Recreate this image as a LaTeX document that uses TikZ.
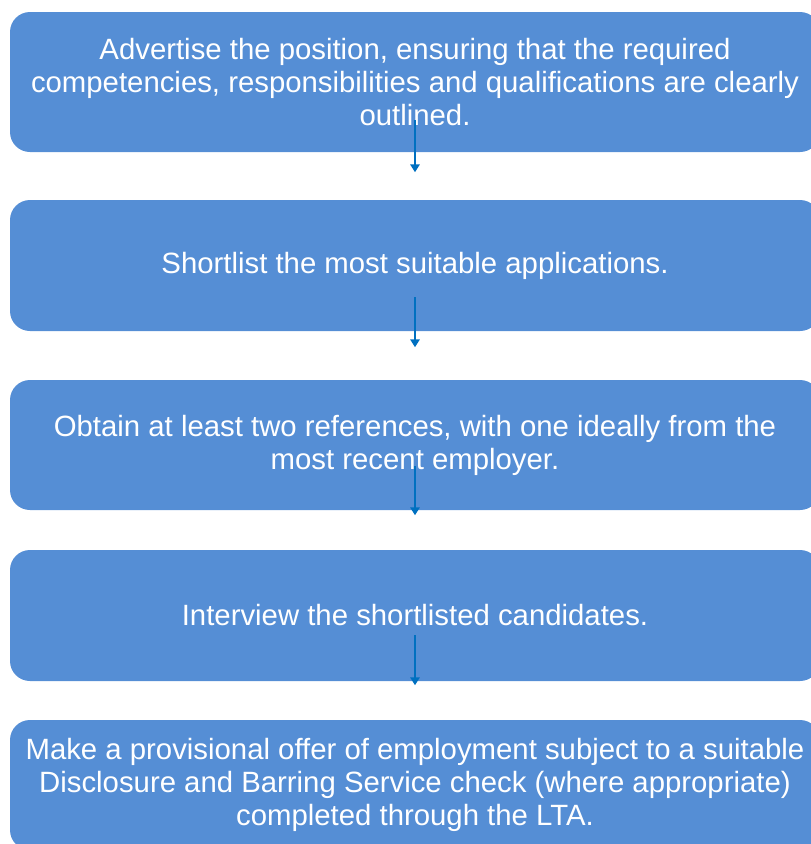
\documentclass[tikz,border=0pt]{standalone}
\usepackage{fontspec}
\setmainfont{Liberation Sans}
\usetikzlibrary{arrows.meta}

\definecolor{boxblue}{RGB}{85,142,213}
\definecolor{arrowblue}{RGB}{0,112,192}

\tikzset{
  stepbox/.style={fill=boxblue, rounded corners=15pt, minimum width=607.5pt,
    text=white, align=center, inner sep=0pt,
    font=\fontsize{22}{24.75}\selectfont},
  flow/.style={draw=arrowblue, line width=1.5pt, -{Triangle[width=7pt,length=6pt]}}
}

\begin{document}
\begin{tikzpicture}[x=0.75pt,y=-0.75pt]
\useasboundingbox (0,0) rectangle (811,844);
\clip (0,0) rectangle (811,844);

\node[stepbox, minimum height=105pt] (advert) at (415,82)
  {Advertise the position, ensuring that the required\\
   competencies, responsibilities and qualifications are clearly\\
   outlined.};
\node[stepbox, minimum height=98.25pt] (shortlist) at (415,265.5)
  {Shortlist the most suitable applications.};
\node[stepbox, minimum height=97.5pt] (refs) at (415,445)
  {Obtain at least two references, with one ideally from the\\
   most recent employer.};
\node[stepbox, minimum height=98.25pt] (interview) at (415,615.5)
  {Interview the shortlisted candidates.};
\node[stepbox, minimum height=97.5pt] (offer) at (415,785)
  {Make a provisional offer of employment subject to a suitable\\
   Disclosure and Barring Service check (where appropriate)\\
   completed through the LTA.};

% arrows
\draw[flow] ([yshift=24pt]advert.south) -- ([yshift=-15pt]advert.south);
\draw[flow] ([yshift=25.5pt]shortlist.south) -- ([yshift=-12pt]shortlist.south);
\draw[flow] ([yshift=33pt]refs.south) -- ([yshift=-3.75pt]refs.south);
\draw[flow] ([yshift=34.5pt]interview.south) -- ([yshift=-3pt]interview.south);

\end{tikzpicture}
\end{document}
